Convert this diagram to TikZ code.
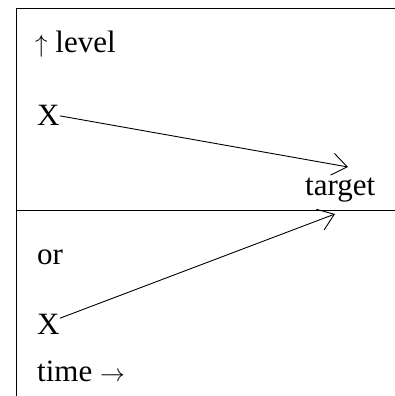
\documentclass[tikz,border=0pt]{standalone}
\usepackage{fontspec}
\setmainfont{Liberation Serif}
\usepackage{tikz}
\usetikzlibrary{arrows.meta,positioning}

\begin{document}
\begin{tikzpicture}[
  x=1pt, y=1pt,
  font=\fontsize{31}{36}\selectfont,
  lbl/.style={anchor=base west, inner sep=0pt},
  rule/.style={line width=0.9pt},
  arr/.style={-{Straight Barb[length=15pt, width=22pt]}, line width=0.9pt}
]
  \useasboundingbox (0,0) rectangle (395,396);
  % frame
  \draw[rule] (395,388) -- (16,388) -- (16,0);
  \draw[rule] (16,186) -- (395,186);

  \node[lbl] (level) at (35,343) {$\uparrow$ level};
  \node[lbl] (xup) at (37,270) {X};
  \node[lbl] (target) at (305,200) {target};
  \node[lbl] (or) at (37,131) {or};
  \node[lbl] (xdown) at (37,61) {X};
  \node[lbl] (time) at (37,14) {time $\rightarrow$};

  \coordinate (tgtup) at (348,229);
  \coordinate (tgtdown) at (335,182);

  \draw[arr] (xup.east) -- (tgtup);
  \draw[arr] (xdown.30) -- (tgtdown);
\end{tikzpicture}
\end{document}
